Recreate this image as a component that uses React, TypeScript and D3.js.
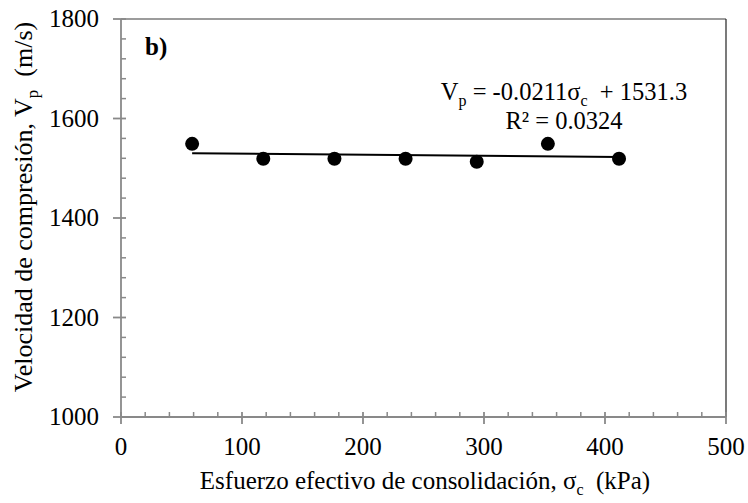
import React from "react";
import * as d3 from "d3";

// ---- Data ----
const sigmaC = [58.8, 117.6, 176.4, 235.2, 294, 352.8, 411.6];
const vp = [1549, 1519, 1519, 1519, 1513, 1549, 1519];
const xTicks = [0, 100, 200, 300, 400, 500];
const yTicks = [1000, 1200, 1400, 1600, 1800];
const trendSlope = -0.0211;
const trendIntercept = 1531.3;
const panelLabel = "b)";
const xTitle = "Esfuerzo efectivo de consolidación, σ";
const yTitle = "Velocidad de compresión, V";

const W = 748;
const H = 503;
const M = { left: 121, right: 22, top: 19, bottom: 86 };
const FONT = "'Liberation Serif', 'Times New Roman', serif";
const AXIS = "#898989";

export default function App() {
  const x = d3.scaleLinear().domain([0, 500]).range([M.left, W - M.right]);
  const y = d3.scaleLinear().domain([1000, 1800]).range([H - M.bottom, M.top]);
  const x0 = x(0);
  const y0 = y(1000);
  const xMinor = d3.range(0, 501, 20).filter((v) => v % 100 !== 0);
  const yMinor = d3.range(1000, 1801, 40).filter((v) => v % 200 !== 0);

  const xs = d3.extent(sigmaC) as [number, number];
  const line = d3
    .line<number>()
    .x((d) => x(d))
    .y((d) => y(trendIntercept + trendSlope * d));

  const ts = { fontFamily: FONT, whiteSpace: "pre" as const };

  return (
    <svg
      width={W}
      height={H}
      style={{ position: "fixed", left: 0, top: 0, background: "#fff", fontFamily: FONT }}
    >
      <rect x={0} y={0} width={W} height={H} fill="#fff" />
      {/* plot border top/right */}
      <line x1={x0} x2={x(500)} y1={y(1800)} y2={y(1800)} stroke="#3a3a3a" strokeWidth={1.2} />
      <line x1={x(500)} x2={x(500)} y1={y(1800)} y2={y0} stroke="#222" strokeWidth={1.2} />

      {/* x axis */}
      <line x1={x0} x2={x(500)} y1={y0} y2={y0} stroke={AXIS} strokeWidth={1.8} />
      {xTicks.map((t) => (
        <line key={"xt" + t} x1={x(t)} x2={x(t)} y1={y0 - 5} y2={y0 + 7} stroke={AXIS} strokeWidth={1.8} />
      ))}
      {xMinor.map((t) => (
        <line key={"xm" + t} x1={x(t)} x2={x(t)} y1={y0 - 5} y2={y0} stroke={AXIS} strokeWidth={1.5} />
      ))}
      {xTicks.map((t) => (
        <text key={"xl" + t} x={x(t)} y={y0 + 38} textAnchor="middle" fontSize={25} fill="#000" style={ts}>
          {t}
        </text>
      ))}

      {/* y axis */}
      <line x1={x0} x2={x0} y1={y(1800)} y2={y0} stroke={AXIS} strokeWidth={1.8} />
      {yTicks.map((t) => (
        <line key={"yt" + t} x1={x0 - 8} x2={x0 + 5} y1={y(t)} y2={y(t)} stroke={AXIS} strokeWidth={1.8} />
      ))}
      {yMinor.map((t) => (
        <line key={"ym" + t} x1={x0} x2={x0 + 5} y1={y(t)} y2={y(t)} stroke={AXIS} strokeWidth={1.5} />
      ))}
      {yTicks.map((t) => (
        <text key={"yl" + t} x={x0 - 22} y={y(t) + 8} textAnchor="end" fontSize={25} fill="#000" style={ts}>
          {t}
        </text>
      ))}

      {/* trend line */}
      <path d={line(xs) || ""} fill="none" stroke="#000" strokeWidth={2} />

      {/* points */}
      {sigmaC.map((s, i) => (
        <circle key={"p" + i} cx={x(s)} cy={y(vp[i])} r={7} fill="#000" />
      ))}

      {/* panel label */}
      <text x={145} y={55} fontSize={25} fontWeight="bold" fill="#000" style={ts}>
        {panelLabel}
      </text>

      {/* equation */}
      <text x={564} y={100} textAnchor="middle" fontSize={24.5} fill="#000" style={ts}>
        <tspan>V</tspan>
        <tspan fontSize={16} dy={6}>p</tspan>
        <tspan dy={-6}>{" = -0.0211σ"}</tspan>
        <tspan fontSize={16} dy={6}>c</tspan>
        <tspan dy={-6}>{"  + 1531.3"}</tspan>
      </text>
      <text x={564} y={129} textAnchor="middle" fontSize={24.5} fill="#000" style={ts}>
        R² = 0.0324
      </text>

      {/* x title */}
      <text x={425} y={489} textAnchor="middle" fontSize={25} fill="#000" style={ts}>
        <tspan>{xTitle}</tspan>
        <tspan fontSize={16} dy={6}>c</tspan>
        <tspan dy={-6}>{"  (kPa)"}</tspan>
      </text>

      {/* y title */}
      <text
        transform={`translate(32, 207) rotate(-90)`}
        textAnchor="middle"
        fontSize={26}
        fill="#000"
        style={ts}
      >
        <tspan>{yTitle}</tspan>
        <tspan fontSize={17} dy={6}>p</tspan>
        <tspan dy={-6}>{"  (m/s)"}</tspan>
      </text>
    </svg>
  );
}
